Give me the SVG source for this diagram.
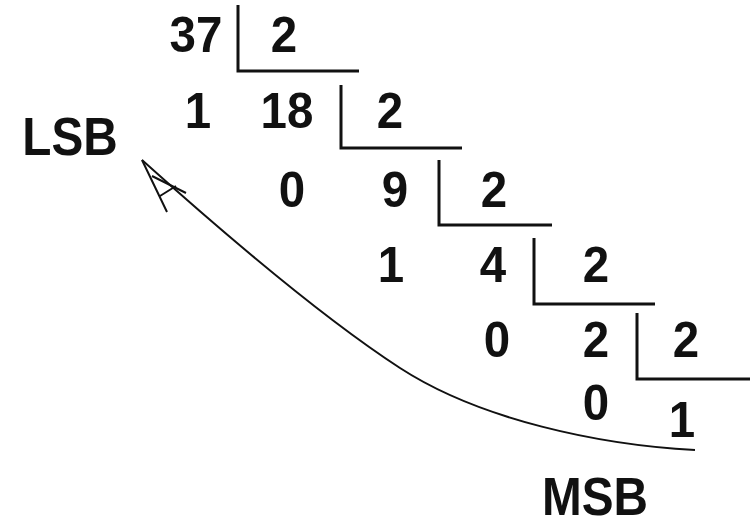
<svg xmlns="http://www.w3.org/2000/svg" width="750" height="527" viewBox="0 0 750 527">
<defs>
<style>
text{font-family:"Liberation Sans",Arial,sans-serif;font-weight:bold;font-size:50px;fill:#111;text-anchor:middle}
.lbl{font-size:53px}
.bar{fill:none;stroke:#111;stroke-width:3}
.arc{fill:none;stroke:#111;stroke-width:2}
</style>
</defs>
<rect width="750" height="527" fill="#fff"/>
<g id="step1">
<text transform="translate(196,52) scale(0.95,1)">37</text>
<text transform="translate(284,52) scale(0.95,1)">2</text>
<path class="bar" d="M238,5 V71 H359"/>
</g>
<g id="step2">
<text transform="translate(198,128) scale(0.95,1)">1</text>
<text transform="translate(287,128) scale(0.95,1)">18</text>
<text transform="translate(390,128) scale(0.95,1)">2</text>
<path class="bar" d="M341,85 V148 H462"/>
</g>
<g id="step3">
<text transform="translate(292,207) scale(0.95,1)">0</text>
<text transform="translate(395,207) scale(0.95,1)">9</text>
<text transform="translate(494,207) scale(0.95,1)">2</text>
<path class="bar" d="M439,160 V225 H552"/>
</g>
<g id="step4">
<text transform="translate(391,282) scale(0.95,1)">1</text>
<text transform="translate(493,282) scale(0.95,1)">4</text>
<text transform="translate(596,282) scale(0.95,1)">2</text>
<path class="bar" d="M534,238 V304 H655"/>
</g>
<g id="step5">
<text transform="translate(497,357) scale(0.95,1)">0</text>
<text transform="translate(596,357) scale(0.95,1)">2</text>
<text transform="translate(686,357) scale(0.95,1)">2</text>
<path class="bar" d="M637,313 V379 H750"/>
</g>
<g id="step6">
<text transform="translate(596,420) scale(0.95,1)">0</text>
<text transform="translate(682,437) scale(0.95,1)">1</text>
</g>
<g id="lsb">
<text class="lbl" transform="translate(70,155) scale(0.9,1)">LSB</text>
</g>
<g id="msb">
<text class="lbl" transform="translate(595,515) scale(0.9,1)">MSB</text>
</g>
<g id="connectors">
<path class="arc" d="M695,450 C600,445 480,420 400,368 C320,316 220,230 142,160"/>
<path class="arc" d="M167,212 L142,160 M152,176 L186,193 M160,196 L176,186"/>
</g>
</svg>
